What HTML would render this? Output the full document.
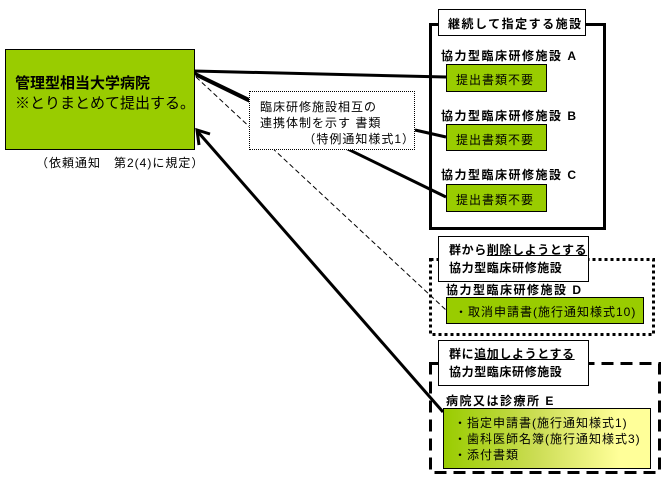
<!DOCTYPE html>
<html><head><meta charset="utf-8"><style>
body{margin:0;width:667px;height:489px;background:#fff;position:relative;overflow:hidden;font-family:"Liberation Sans","Noto Sans CJK JP",sans-serif;color:#000}
.a{position:absolute;box-sizing:border-box}
.g{background:#99cc00;border:1.5px solid #000}
.t{font-size:12px;white-space:nowrap;letter-spacing:1px}
.b{font-weight:bold;letter-spacing:1.5px}
.h{letter-spacing:0.6px}
</style></head><body>
<svg class="a" style="left:0;top:0" width="667" height="489">
<g stroke="#000" fill="none">
<line x1="194" y1="71" x2="446" y2="77" stroke-width="3"/>
<line x1="194" y1="73" x2="250" y2="100" stroke-width="3"/>
<line x1="415" y1="130" x2="446" y2="137" stroke-width="3"/>
<line x1="196" y1="75" x2="446" y2="197" stroke-width="3"/>
<line x1="196" y1="77" x2="446" y2="310" stroke-width="1" stroke-dasharray="5,3"/>
<line x1="443" y1="412" x2="198" y2="132" stroke-width="3"/>
<polyline points="210,134 197,130 199,145" stroke-width="3"/>
</g>
<rect x="430.5" y="24.5" width="174" height="204" fill="none" stroke="#000" stroke-width="3"/>
<rect x="430.5" y="259.5" width="223" height="75" fill="none" stroke="#000" stroke-width="3" stroke-dasharray="3,3"/>
<rect x="430.5" y="363.5" width="229" height="109" fill="none" stroke="#000" stroke-width="3" stroke-dasharray="12,7"/>
</svg>
<div class="a" style="left:249px;top:91px;width:166px;height:59px;background:#fff;border:1px dotted #000"></div>
<div class="a t" style="left:260px;top:99px;line-height:16px">臨床研修施設相互の<br>連携体制を示す 書類<br>&nbsp;&nbsp;&nbsp;&nbsp;&nbsp;&nbsp;&nbsp;&nbsp;&nbsp;&nbsp;（特例通知様式1）</div>
<div class="a g" style="left:5px;top:49px;width:190px;height:101px"></div>
<div class="a" style="left:15px;top:74px;font-size:15px;line-height:20px;white-space:nowrap"><b>管理型相当大学病院</b><br>※とりまとめて提出する。</div>
<div class="a t" style="left:36px;top:154px">（依頼通知　第2(4)に規定）</div>
<div class="a t b" style="left:438px;top:9px;width:148px;height:27px;background:#fff;border:1px solid #000;padding:5px 0 0 9px">継続して指定する施設</div>
<div class="a t b" style="left:441px;top:47px">協力型臨床研修施設 A</div>
<div class="a g t" style="left:446px;top:64px;width:101px;height:28px;padding:6px 0 0 9px">提出書類不要</div>
<div class="a t b" style="left:441px;top:107px">協力型臨床研修施設 B</div>
<div class="a g t" style="left:446px;top:124px;width:101px;height:27px;padding:6px 0 0 9px">提出書類不要</div>
<div class="a t b" style="left:441px;top:166px">協力型臨床研修施設 C</div>
<div class="a g t" style="left:446px;top:184px;width:101px;height:28px;padding:6px 0 0 9px">提出書類不要</div>
<div class="a t b h" style="left:438px;top:236px;width:151px;height:46px;background:#fff;border:1px solid #000;padding:4px 0 0 10px;line-height:18px">群から<u>削除しようとする</u><br>協力型臨床研修施設</div>
<div class="a t b" style="left:446px;top:281px">協力型臨床研修施設 D</div>
<div class="a g t" style="left:446px;top:297px;width:198px;height:27px;padding:5px 0 0 8px">・取消申請書(施行通知様式10)</div>
<div class="a t b h" style="left:438px;top:340px;width:151px;height:46px;background:#fff;border:1px solid #000;padding:4px 0 0 10px;line-height:18px">群に<u>追加しようとする</u><br>協力型臨床研修施設</div>
<div class="a t b" style="left:446px;top:392px">病院又は診療所 E</div>
<div class="a t" style="left:443px;top:408px;width:208px;height:61px;border:1.5px solid #000;background:linear-gradient(90deg,#99cc00,#ccdd55 45%,#ffff99 85%);padding:6px 0 0 10px;line-height:16px">・指定申請書(施行通知様式1)<br>・歯科医師名簿(施行通知様式3)<br>・添付書類</div>
</body></html>
